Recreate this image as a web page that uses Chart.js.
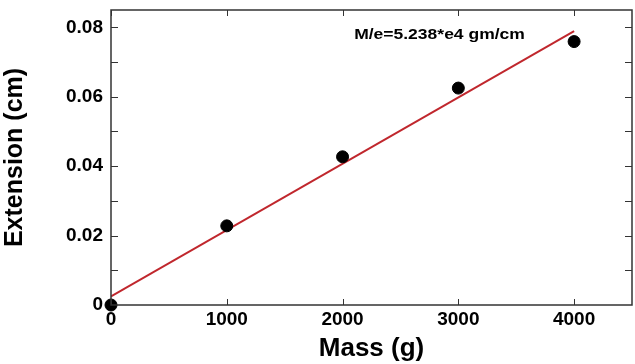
<!DOCTYPE html>
<html>
<head>
<meta charset="utf-8">
<script src="https://cdn.jsdelivr.net/npm/chart.js@4.4.1/dist/chart.umd.min.js"></script>
<style>
  html, body { margin: 0; padding: 0; background: #fff; overflow: hidden; }
  #wrap { width: 635px; height: 364px; overflow: hidden; }
  canvas { display: block; }
</style>
</head>
<body>
<div id="wrap"><canvas id="c" width="639" height="364"></canvas></div>
<script>
// measured points
const massG = [0, 1000, 2000, 3000, 4000];
const extensionCm = [0, 0.0228, 0.0427, 0.0625, 0.0759];
// fitted line, end points
const fitMass = [0, 4000];
const fitExt = [0.0025, 0.0789];
const xTicks = [0, 1000, 2000, 3000, 4000];
const yTickLabels = ['0', '0.02', '0.04', '0.06', '0.08'];
const noteText = 'M/e=5.238*e4 gm/cm';
const notePos = { x: 2100, y: 0.0779 };

const FONT = '"Liberation Sans", Arial, sans-serif';

// frame + inward ticks on all four sides, plus the slope note
const framePlugin = {
  id: 'frame',
  afterDraw(chart) {
    const { ctx, chartArea: a, scales } = chart;
    const x = scales.x, y = scales.y;
    ctx.save();
    ctx.strokeStyle = '#333';
    ctx.lineWidth = 1.5;
    ctx.strokeRect(a.left, a.top, a.right - a.left, a.bottom - a.top);
    ctx.lineWidth = 1;
    ctx.beginPath();
    xTicks.forEach(v => {
      const px = Math.round(x.getPixelForValue(v)) + 0.5;
      ctx.moveTo(px, a.bottom); ctx.lineTo(px, a.bottom - 6);
      ctx.moveTo(px, a.top); ctx.lineTo(px, a.top + 6);
    });
    for (let i = 1; i <= 8; i++) {
      const py = Math.round(y.getPixelForValue(i * 0.01)) + 0.5;
      ctx.moveTo(a.left, py); ctx.lineTo(a.left + 7, py);
      ctx.moveTo(a.right, py); ctx.lineTo(a.right - 7, py);
    }
    ctx.stroke();
    // the note text in the reference is a bit wide, stretch it
    ctx.fillStyle = '#000';
    ctx.font = 'bold 14px ' + FONT;
    ctx.textBaseline = 'middle';
    ctx.textAlign = 'left';
    ctx.translate(x.getPixelForValue(notePos.x), y.getPixelForValue(notePos.y));
    ctx.scale(1.25, 1);
    ctx.fillText(noteText, 0, 0);
    ctx.restore();
  }
};

new Chart(document.getElementById('c'), {
  type: 'scatter',
  data: {
    datasets: [
      {
        type: 'line',
        label: 'fit',
        data: fitMass.map((m, i) => ({ x: m, y: fitExt[i] })),
        borderColor: '#c0272d',
        borderWidth: 2,
        pointRadius: 0,
        fill: false,
        order: 2
      },
      {
        label: 'data',
        data: massG.map((m, i) => ({ x: m, y: extensionCm[i] })),
        backgroundColor: '#000',
        borderColor: '#000',
        pointRadius: 6,
        order: 1,
        clip: false
      }
    ]
  },
  options: {
    responsive: false,
    animation: false,
    layout: { padding: { top: 10, right: 0, left: 0, bottom: 0 } },
    plugins: { legend: { display: false }, tooltip: { enabled: false } },
    scales: {
      x: {
        type: 'linear',
        min: 0, max: 4500,
        afterBuildTicks(s) { s.ticks = xTicks.map(v => ({ value: v })); },
        afterFit(s) { s.height = 59; s.paddingLeft = 0; s.paddingRight = 0; },
        grid: { display: false, drawTicks: false },
        border: { display: false },
        ticks: {
          color: '#000',
          padding: 3,
          font: { family: FONT, size: 19, weight: 'bold' },
          maxRotation: 0,
          callback(v) { return String(v); }
        },
        title: {
          display: true,
          text: 'Mass (g)',
          color: '#000',
          padding: { top: 0, bottom: 0 },
          font: { family: FONT, size: 26, weight: 'bold' }
        }
      },
      y: {
        type: 'linear',
        min: 0, max: 0.085,
        afterBuildTicks(s) {
          s.ticks = yTickLabels.map(t => ({ value: parseFloat(t) }));
        },
        afterFit(s) { s.width = 111; s.paddingTop = 0; s.paddingBottom = 0; },
        grid: { display: false, drawTicks: false },
        border: { display: false },
        ticks: {
          color: '#000',
          padding: 8,
          font: { family: FONT, size: 19, weight: 'bold' },
          callback(v, i) { return yTickLabels[i]; }
        },
        title: {
          display: true,
          text: 'Extension (cm)',
          color: '#000',
          padding: { top: 0, bottom: 2 },
          font: { family: FONT, size: 25, weight: 'bold' }
        }
      }
    }
  },
  plugins: [framePlugin]
});
</script>
</body>
</html>
